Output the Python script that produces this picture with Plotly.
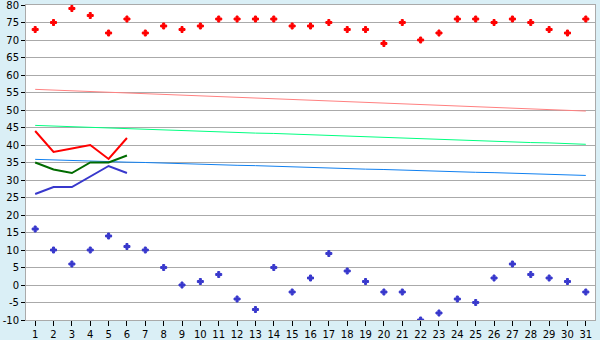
import plotly.graph_objects as go

days = list(range(1, 32))

# daily high / low (scatter markers)
high_pts = [73, 75, 79, 77, 72, 76, 72, 74, 73, 74, 76, 76, 76, 76, 74, 74,
            75, 73, 73, 69, 75, 70, 72, 76, 76, 75, 76, 75, 73, 72, 76]
low_pts = [16, 10, 6, 10, 14, 11, 10, 5, 0, 1, 3, -4, -7, 5, -2, 2,
           9, 4, 1, -2, -2, -10, -8, -4, -5, 2, 6, 3, 2, 1, -2]

# short series (first 6 days)
line_days = [1, 2, 3, 4, 5, 6]
red_line = [44, 38, 39, 40, 36, 42]
green_line = [35, 33, 32, 35, 35, 37]
blue_line = [26, 28, 28, 31, 34, 32]

# trend lines (per day)
pink_trend = [55.9, 55.7, 55.5, 55.3, 55.1, 54.9, 54.7, 54.5, 54.2, 54.0, 53.8,
              53.6, 53.4, 53.2, 53.0, 52.8, 52.6, 52.4, 52.2, 52.0, 51.8, 51.6,
              51.4, 51.1, 50.9, 50.7, 50.5, 50.3, 50.1, 49.9, 49.7]
lgreen_trend = [45.6, 45.4, 45.2, 45.1, 44.9, 44.7, 44.5, 44.3, 44.2, 44.0, 43.8,
                43.6, 43.4, 43.3, 43.1, 42.9, 42.7, 42.5, 42.4, 42.2, 42.0, 41.8,
                41.6, 41.5, 41.3, 41.1, 40.9, 40.7, 40.6, 40.4, 40.2]
lblue_trend = [35.9, 35.7, 35.6, 35.4, 35.3, 35.1, 35.0, 34.8, 34.7, 34.5, 34.4,
               34.2, 34.1, 33.9, 33.8, 33.6, 33.5, 33.3, 33.1, 33.0, 32.8, 32.7,
               32.5, 32.4, 32.2, 32.1, 31.9, 31.8, 31.6, 31.5, 31.3]

# y axis tick labels
y_tickvals = [-10, -5, 0, 5, 10, 15, 20, 25, 30, 35, 40, 45, 50, 55, 60, 65, 70, 75, 80]
y_ticktext = ["-10", "-5", "0", "5", "10", "15", "20", "25", "30", "35", "40",
              "45", "50", "55", "60", "65", "70", "75", "80"]

fig = go.Figure()

fig.add_trace(go.Scatter(x=days, y=pink_trend, mode="lines",
                         line=dict(color="#FF8080", width=1)))
fig.add_trace(go.Scatter(x=days, y=lgreen_trend, mode="lines",
                         line=dict(color="#00FF80", width=1)))
fig.add_trace(go.Scatter(x=days, y=lblue_trend, mode="lines",
                         line=dict(color="#1080F0", width=1)))

fig.add_trace(go.Scatter(x=line_days, y=red_line, mode="lines",
                         line=dict(color="#FF0000", width=2)))
fig.add_trace(go.Scatter(x=line_days, y=green_line, mode="lines",
                         line=dict(color="#006B00", width=2)))
fig.add_trace(go.Scatter(x=line_days, y=blue_line, mode="lines",
                         line=dict(color="#3838CC", width=2)))

fig.add_trace(go.Scatter(x=days, y=high_pts, mode="markers",
                         marker=dict(symbol="cross", size=5, color="#FF0000",
                                     line=dict(width=1, color="#FF0000"))))
fig.add_trace(go.Scatter(x=days, y=low_pts, mode="markers",
                         marker=dict(symbol="cross", size=5, color="#3838CC",
                                     line=dict(width=1, color="#3838CC"))))

fig.update_layout(
    width=600, height=340,
    margin=dict(l=26, r=5, t=5, b=20),
    paper_bgcolor="#DAEFF6",
    plot_bgcolor="#FFFFFF",
    showlegend=False,
    font=dict(family="DejaVu Sans", size=10, color="#000000"),
)
fig.update_xaxes(
    automargin=False,
    range=[0.5, 31.5], tickmode="array", tickvals=days,
    ticktext=[str(d) for d in days],
    showgrid=False, zeroline=False,
    showline=True, linecolor="#AAAAAA", linewidth=1, mirror=True,
    ticks="outside", ticklen=5, tickcolor="#000000", tickwidth=1,
)
fig.update_yaxes(
    automargin=False,
    range=[-10, 80], tickmode="array", tickvals=y_tickvals, ticktext=y_ticktext,
    ticklabeloverflow="allow",
    showgrid=True, gridcolor="#AAAAAA", gridwidth=1,
    zeroline=False,
    showline=True, linecolor="#AAAAAA", linewidth=1, mirror=True,
    ticks="outside", ticklen=4, tickcolor="#000000", tickwidth=1,
)

fig.write_html("out.html")
